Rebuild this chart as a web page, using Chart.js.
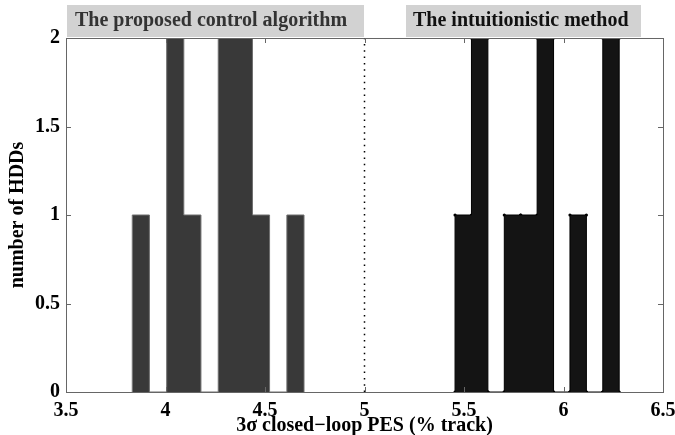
<!DOCTYPE html>
<html>
<head>
<meta charset="utf-8">
<script src="https://cdn.jsdelivr.net/npm/chart.js@4"></script>
<style>
  html, body { margin: 0; padding: 0; background: #fff; }
  #wrap { position: relative; width: 675px; height: 435px; }
</style>
</head>
<body>
<div id="wrap"><canvas id="c" width="675" height="435"></canvas></div>
<script>
// ---- data ----
const xTicks = [3.5, 4, 4.5, 5, 5.5, 6, 6.5];
const yTicks = [0, 0.5, 1, 1.5, 2];
const proposedEdges  = [3.833, 3.919, 4.006, 4.092, 4.178, 4.265, 4.351, 4.437, 4.523, 4.610, 4.696];
const proposedCounts = [1, 0, 2, 1, 0, 2, 2, 1, 0, 1];
const intuitiveEdges  = [5.455, 5.5375, 5.620, 5.7025, 5.785, 5.8675, 5.950, 6.0325, 6.115, 6.1975, 6.280];
const intuitiveCounts = [1, 2, 0, 1, 1, 2, 0, 1, 0, 2];
const dividerX = 5;
const labels = {
  left: 'The proposed control algorithm',
  right: 'The intuitionistic method',
  x: '3\u03C3 closed\u2212loop PES (% track)',
  y: 'number of HDDs'
};

// step outline of a histogram from edges/counts
function outline(edges, counts) {
  const pts = [{x: edges[0], y: 0}];
  counts.forEach((c, i) => pts.push({x: edges[i], y: c}));
  pts.push({x: edges[edges.length - 1], y: 0});
  return pts;
}
function vertices(edges, counts) {
  const pts = [];
  counts.forEach((c, i) => {
    pts.push({x: edges[i], y: 0}, {x: edges[i], y: c}, {x: edges[i + 1], y: c}, {x: edges[i + 1], y: 0});
  });
  return pts;
}

const FONT = "'Liberation Serif', 'Times New Roman', serif";

const framePlugin = {
  id: 'frame',
  afterDatasetsDraw(chart) {
    const {ctx, chartArea: a, scales: {x, y}} = chart;
    ctx.save();
    ctx.strokeStyle = '#666';
    ctx.lineWidth = 1;
    ctx.beginPath();
    ctx.moveTo(a.left, a.top + 0.5); ctx.lineTo(a.right + 0.5, a.top + 0.5);
    ctx.moveTo(a.right + 0.5, a.top); ctx.lineTo(a.right + 0.5, a.bottom);
    // inward ticks
    xTicks.forEach(v => {
      const px = Math.round(x.getPixelForValue(v)) + 0.5;
      ctx.moveTo(px, a.bottom); ctx.lineTo(px, a.bottom - 5);
      ctx.moveTo(px, a.top); ctx.lineTo(px, a.top + 5);
    });
    yTicks.forEach(v => {
      const py = Math.round(y.getPixelForValue(v)) + 0.5;
      ctx.moveTo(a.left, py); ctx.lineTo(a.left + 5, py);
      ctx.moveTo(a.right, py); ctx.lineTo(a.right - 5, py);
    });
    ctx.stroke();
    ctx.restore();
  },
  afterDraw(chart) {
    const {ctx} = chart;
    ctx.save();
    ctx.fillStyle = '#d2d2d2';
    ctx.fillRect(67, 5, 297, 32);
    ctx.fillRect(406, 5, 235, 32);
    ctx.font = 'bold 20px ' + FONT;
    ctx.textBaseline = 'alphabetic';
    ctx.fillStyle = '#333';
    ctx.fillText(labels.left, 75, 26);
    ctx.fillStyle = '#111';
    ctx.fillText(labels.right, 413, 26);
    ctx.restore();
  }
};

new Chart(document.getElementById('c'), {
  type: 'scatter',
  data: {
    datasets: [
      {
        data: outline(proposedEdges, proposedCounts),
        showLine: true, stepped: true, fill: 'origin',
        backgroundColor: '#393939', borderColor: '#6e6e6e', borderWidth: 1,
        pointRadius: 0
      },
      {
        data: outline(intuitiveEdges, intuitiveCounts),
        showLine: true, stepped: true, fill: 'origin',
        backgroundColor: '#141414', borderColor: '#000', borderWidth: 1,
        pointRadius: 0
      },
      {
        data: vertices(intuitiveEdges, intuitiveCounts),
        showLine: false, pointRadius: 1.6, pointBackgroundColor: '#000',
        pointBorderWidth: 0
      },
      {
        data: [{x: dividerX, y: 0}, {x: dividerX, y: 2}],
        showLine: true, borderColor: '#000', borderWidth: 1.5,
        borderDash: [1.5, 4.8], pointRadius: 0, fill: false
      }
    ]
  },
  options: {
    responsive: false,
    animation: false,
    events: [],
    layout: { padding: { top: 38, right: 12, left: 0, bottom: 0 } },
    plugins: { legend: { display: false }, tooltip: { enabled: false } },
    scales: {
      x: {
        type: 'linear', min: 3.5, max: 6.5,
        afterBuildTicks: s => { s.ticks = xTicks.map(v => ({value: v})); },
        afterFit: s => { s.height = 43; s.paddingLeft = 0; s.paddingRight = 0; },
        grid: { display: false, drawTicks: false },
        border: { display: true, color: '#666', width: 1 },
        ticks: { color: '#000', font: { family: FONT, size: 20, weight: 'bold', lineHeight: 1 }, padding: 9, maxRotation: 0, autoSkip: false,
                 callback: v => String(v) },
        title: { display: true, text: labels.x, color: '#000', font: { family: FONT, size: 20, weight: 'bold', lineHeight: 1 }, padding: { top: 0, bottom: -1 } }
      },
      y: {
        type: 'linear', min: 0, max: 2,
        afterBuildTicks: s => { s.ticks = yTicks.map(v => ({value: v})); },
        afterFit: s => { s.width = 66; s.paddingTop = 0; s.paddingBottom = 0; },
        grid: { display: false, drawTicks: false },
        border: { display: true, color: '#666', width: 1 },
        ticks: { color: '#000', font: { family: FONT, size: 20, weight: 'bold', lineHeight: 1 }, padding: 6,
                 callback: v => String(v) },
        title: { display: true, text: labels.y, color: '#000', font: { family: FONT, size: 20, weight: 'bold', lineHeight: 1 }, padding: { top: 8, bottom: 0 } }
      }
    }
  },
  plugins: [framePlugin]
});
</script>
</body>
</html>
